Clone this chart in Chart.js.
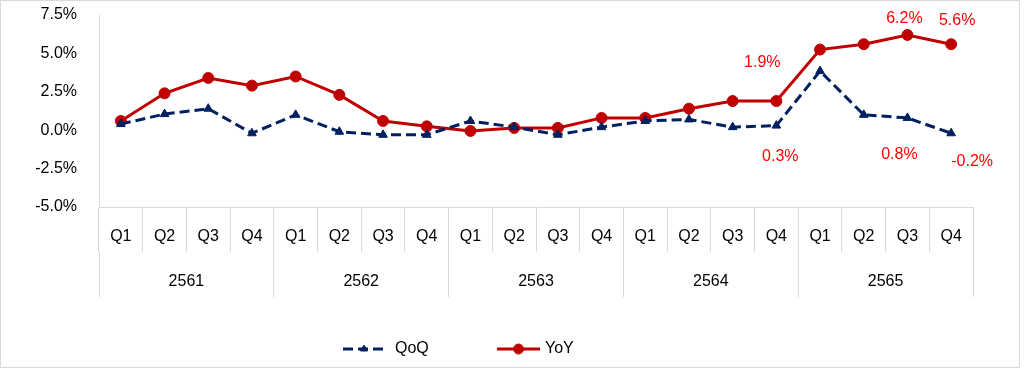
<!DOCTYPE html>
<html>
<head>
<meta charset="utf-8">
<script src="https://cdn.jsdelivr.net/npm/chart.js@4"></script>
<style>
  body { margin: 0; background: #fff; }
  #wrap { position: relative; width: 1024px; height: 370px; }
  #frame { position: absolute; left: 0; top: 0; width: 1018px; height: 366px; border: 1px solid #d9d9d9; pointer-events: none; }
</style>
</head>
<body>
<div id="wrap">
  <canvas id="chart"></canvas>
  <div id="frame"></div>
</div>
<script>
// quarters on the x axis, grouped by Thai year
const categories = ["Q1","Q2","Q3","Q4","Q1","Q2","Q3","Q4","Q1","Q2","Q3","Q4","Q1","Q2","Q3","Q4","Q1","Q2","Q3","Q4"];
const years = ["2561", "2562", "2563", "2564", "2565"];

// growth in percent
const qoq = [0.4, 1.05, 1.4, -0.2, 1.0, -0.1, -0.3, -0.3, 0.6, 0.2, -0.3, 0.2, 0.6, 0.7, 0.2, 0.3, 3.85, 1.0, 0.8, -0.2];
const yoy = [0.6, 2.4, 3.4, 2.9, 3.5, 2.3, 0.6, 0.25, -0.05, 0.15, 0.15, 0.8, 0.8, 1.4, 1.9, 1.9, 5.25, 5.6, 6.2, 5.6];

// points that carry a value label
const labelIdx = [15, 18, 19];

const yTicks = [-5, -2.5, 0, 2.5, 5, 7.5];

const FONT = "'Liberation Sans', Arial, sans-serif";
const FSIZE = 16;
const navy = "#002060";
const red = "#c00000";
const grey = "#d9d9d9";

// where each label sits relative to its point (dataset index -> point index -> [dx, dy])
const labelOffsets = {
  0: { 15: [4, 31], 18: [-8, 37], 19: [21, 28] },
  1: { 15: [-14, -38], 18: [-3, -16], 19: [6, -24] }
};

const valueLabels = {
  id: "valueLabels",
  afterDatasetsDraw(chart) {
    const ctx = chart.ctx;
    ctx.save();
    ctx.font = FSIZE + "px " + FONT;
    ctx.fillStyle = "#ff0000";
    ctx.textAlign = "center";
    ctx.textBaseline = "middle";
    chart.data.datasets.forEach((ds, di) => {
      const meta = chart.getDatasetMeta(di);
      labelIdx.forEach(i => {
        const pt = meta.data[i];
        const off = labelOffsets[di][i];
        ctx.fillText(ds.data[i].toFixed(1) + "%", pt.x + off[0], pt.y + off[1]);
      });
    });
    ctx.restore();
  }
};

// legend: line + marker, then the name
const lineLegend = {
  id: "lineLegend",
  afterDraw(chart) {
    const ctx = chart.ctx;
    const y = 349;
    const items = [
      { ds: chart.data.datasets[0], x0: 343, x1: 385, tx: 395, r: 4 },
      { ds: chart.data.datasets[1], x0: 497, x1: 540, tx: 545, r: 5 }
    ];
    ctx.save();
    items.forEach(it => {
      const ds = it.ds;
      ctx.strokeStyle = ds.borderColor;
      ctx.lineWidth = ds.borderWidth;
      ctx.setLineDash(ds.borderDash || []);
      ctx.beginPath();
      ctx.moveTo(it.x0, y);
      ctx.lineTo(it.x1, y);
      ctx.stroke();
      ctx.setLineDash([]);
      ctx.fillStyle = ds.backgroundColor;
      ctx.lineWidth = 1;
      Chart.helpers.drawPoint(ctx, {
        pointStyle: ds.pointStyle,
        radius: it.r,
        borderWidth: 1
      }, (it.x0 + it.x1) / 2, y);
      ctx.fillStyle = "#000";
      ctx.font = FSIZE + "px " + FONT;
      ctx.textAlign = "left";
      ctx.textBaseline = "middle";
      ctx.fillText(ds.label, it.tx, y);
    });
    ctx.restore();
  }
};

new Chart(document.getElementById("chart"), {
  type: "line",
  data: {
    labels: categories,
    datasets: [
      {
        label: "QoQ",
        data: qoq,
        borderColor: navy,
        backgroundColor: navy,
        borderWidth: 3,
        borderDash: [10, 5],
        pointStyle: "triangle",
        pointRadius: 5,
        pointBorderWidth: 1,
        tension: 0
      },
      {
        label: "YoY",
        data: yoy,
        borderColor: red,
        backgroundColor: red,
        borderWidth: 3,
        pointStyle: "circle",
        pointRadius: 5.5,
        pointBorderWidth: 1,
        tension: 0
      }
    ]
  },
  options: {
    responsive: true,
    maintainAspectRatio: false,
    animation: false,
    layout: { padding: { left: 0, right: 51, top: 15, bottom: 73 } },
    plugins: {
      legend: { display: false },
      tooltip: { enabled: false }
    },
    scales: {
      y: {
        min: -5,
        max: 7.5,
        afterBuildTicks: (s) => { s.ticks = yTicks.map(v => ({ value: v })); },
        afterFit: (s) => { s.width = 99; s.paddingTop = 8; s.paddingBottom = 8; },
        grid: { display: false, drawTicks: false },
        border: { display: true, color: grey, width: 1 },
        ticks: {
          padding: 22,
          color: "#000",
          font: { family: FONT, size: FSIZE },
          callback: (v) => v.toFixed(1) + "%"
        }
      },
      x: {
        position: "bottom",
        offset: true,
        afterFit: (s) => { s.height = 45; },
        grid: { offset: true, drawOnChartArea: false, color: grey, tickLength: 45 },
        border: { display: true, color: grey },
        ticks: {
          padding: -25,
          maxRotation: 0,
          autoSkip: false,
          color: "#000",
          font: { family: FONT, size: FSIZE }
        }
      },
      x2: {
        type: "category",
        labels: years,
        position: "bottom",
        offset: true,
        afterFit: (s) => { s.height = 45; },
        grid: { offset: true, drawOnChartArea: false, color: grey, tickLength: 45 },
        border: { display: false },
        ticks: {
          padding: -25,
          maxRotation: 0,
          autoSkip: false,
          color: "#000",
          font: { family: FONT, size: FSIZE }
        }
      }
    }
  },
  plugins: [valueLabels, lineLegend]
});
</script>
</body>
</html>
